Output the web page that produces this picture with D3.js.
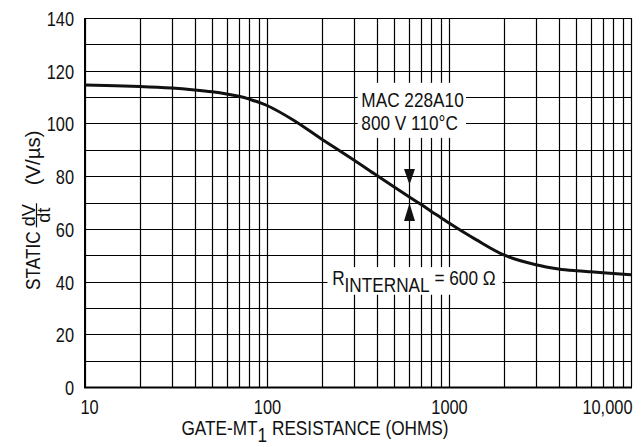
<!DOCTYPE html>
<html>
<head>
<meta charset="utf-8">
<script src="https://cdn.jsdelivr.net/npm/d3@7"></script>
<style>
  html, body { margin: 0; padding: 0; background: #fff; }
  svg { display: block; }
  text { font-family: 'Liberation Sans', Arial, sans-serif; fill: #111; }
</style>
</head>
<body>
<svg id="chart" width="643" height="447"></svg>
<script>
// ---- data ----
const resistance = [10, 20, 30, 40, 50, 60, 70, 80, 100, 140, 200, 300, 400, 500, 600, 700, 800, 900, 1000, 1400, 2000, 3000, 4000, 5000, 6000, 8000, 10000];
const staticDvDt = [114.6, 114.0, 113.4, 112.7, 112.0, 111.2, 110.3, 109.2, 106.8, 101.2, 94.0, 86.1, 80.3, 75.9, 72.3, 69.3, 66.6, 64.3, 62.2, 56.0, 50.1, 46.4, 44.8, 44.1, 43.7, 43.1, 42.6];
const xTickValues = [10, 100, 1000, 10000];
const xTickLabels = ["10", "100", "1000", "10,000"];
const yTickValues = [0, 20, 40, 60, 80, 100, 120, 140];
const yTickLabels = ["0", "20", "40", "60", "80", "100", "120", "140"];
const deviceLabel = ["MAC 228A10", "800 V 110°C"];
const markerResistance = 600;

const NARROW = 0.82; // condense Liberation Sans horizontally to mimic a narrow face

const svg = d3.select("#chart");
const M = { left: 85, right: 631, top: 18, bottom: 387 };

const x = d3.scaleLog().domain([10, 10000]).range([M.left, M.right]).interpolate(d3.interpolateRound);
const y = d3.scaleLinear().domain([0, 140]).range([M.bottom, M.top]).interpolate(d3.interpolateRound);
const xs = d3.scaleLog().domain([10, 10000]).range([M.left, M.right]);
const ys = d3.scaleLinear().domain([0, 140]).range([M.bottom, M.top]);

function condense(sel, k = NARROW) {
  sel.each(function () {
    const ax = +this.getAttribute("x") || 0;
    d3.select(this).attr("transform", `translate(${ax * (1 - k)},0) scale(${k},1)`);
  });
}

// ---- grid ----
const gx = svg.append("g").attr("transform", `translate(0,${M.bottom})`)
  .call(d3.axisBottom(x).tickValues(x.ticks()).tickSize(-(M.bottom - M.top)).tickFormat(""));
gx.select(".domain").remove();
gx.selectAll("line").attr("stroke", "#000").attr("stroke-width", 1.2);

const gy = svg.append("g").attr("transform", `translate(${M.left},0)`)
  .call(d3.axisLeft(y).tickValues(d3.range(0, 141, 10)).tickSize(-(M.right - M.left)).tickFormat(""));
gy.select(".domain").remove();
gy.selectAll("line").attr("stroke", "#000").attr("stroke-width", 1.2);

// ---- frame ----
svg.append("line").attr("x1", M.left).attr("x2", M.left).attr("y1", M.top).attr("y2", M.bottom + 1)
  .attr("stroke", "#000").attr("stroke-width", 2);
svg.append("line").attr("x1", M.left - 1).attr("x2", M.right + 1).attr("y1", M.bottom + 0.5).attr("y2", M.bottom + 0.5)
  .attr("stroke", "#000").attr("stroke-width", 2);

// ---- tick labels via axes ----
const axX = svg.append("g").attr("transform", `translate(0,${M.bottom})`)
  .call(d3.axisBottom(x).tickValues(xTickValues).tickSize(0).tickPadding(0)
    .tickFormat((d, i) => xTickLabels[i]));
axX.select(".domain").remove();
axX.selectAll("text")
  .attr("y", 27).attr("dy", 0)
  .style("font-size", "20px")
  .attr("font-family", null)
  .attr("text-anchor", (d, i) => i === xTickValues.length - 1 ? "end" : "middle")
  .attr("x", (d, i) => i === 0 ? 4 : (i === xTickValues.length - 1 ? 1 : 0));
condense(axX.selectAll("text"));

const axY = svg.append("g").attr("transform", `translate(${M.left},0)`)
  .call(d3.axisLeft(y).tickValues(yTickValues).tickSize(0).tickPadding(11)
    .tickFormat((d, i) => yTickLabels[i]));
axY.select(".domain").remove();
axY.selectAll("text").style("font-size", "20px").attr("font-family", null).attr("dy", "0.36em");
condense(axY.selectAll("text"));

// ---- annotation boxes ----
const box1 = { r0: 315, v0: 115.4, r1: 1240, v1: 94.5 };
svg.append("rect")
  .attr("x", xs(box1.r0)).attr("y", ys(box1.v0))
  .attr("width", xs(box1.r1) - xs(box1.r0)).attr("height", ys(box1.v1) - ys(box1.v0))
  .attr("fill", "#fff");
const l1 = svg.append("text").attr("x", xs(330)).attr("y", ys(106.3)).style("font-size", "21px").text(deviceLabel[0]);
const l2 = svg.append("text").attr("x", xs(330)).attr("y", ys(97.5)).style("font-size", "21px").text(deviceLabel[1]);
condense(l1); condense(l2);

const box2 = { r0: 215, v0: 45.5, r1: 1970, v1: 35 };
svg.append("rect")
  .attr("x", xs(box2.r0)).attr("y", ys(box2.v0))
  .attr("width", xs(box2.r1) - xs(box2.r0)).attr("height", ys(box2.v1) - ys(box2.v0))
  .attr("fill", "#fff");
const rt = svg.append("text").attr("x", xs(228)).attr("y", ys(38.7)).style("font-size", "21px");
rt.append("tspan").text("R");
rt.append("tspan").attr("dy", 7).text("INTERNAL");
rt.append("tspan").attr("dy", -7).text(" = 600 Ω");
condense(rt);

// ---- curve ----
const data = resistance.map((r, i) => ({ r, v: staticDvDt[i] }));
svg.append("path").datum(data)
  .attr("fill", "none").attr("stroke", "#111").attr("stroke-width", 3)
  .attr("stroke-linejoin", "round")
  .attr("d", d3.line().x(d => xs(d.r)).y(d => ys(d.v)).curve(d3.curveCatmullRom.alpha(0.5)));

// ---- arrows at R = 600 ----
const ax0 = x(markerResistance) + 0.5;
const tri = (tipV, baseV) => {
  const t = ys(tipV), b = ys(baseV);
  return `M${ax0 - 5.5},${b}L${ax0 + 5.5},${b}L${ax0},${t}Z`;
};
svg.append("path").attr("d", tri(76.7, 82.7)).attr("fill", "#111");
svg.append("path").attr("d", tri(69.7, 63.0)).attr("fill", "#111");

// ---- axis titles ----
const xt = svg.append("text").attr("x", 315).attr("y", 435).attr("text-anchor", "middle").style("font-size", "21px");
xt.append("tspan").text("GATE-MT");
xt.append("tspan").attr("dy", 7).text("1");
xt.append("tspan").attr("dy", -7).text(" RESISTANCE (OHMS)");
condense(xt);

// rotated y title: STATIC dV/dt (V/µs)
const yt = svg.append("g").attr("transform", "translate(40,0) rotate(-90)");
const startU = -290;
const t1 = yt.append("text").attr("x", startU).attr("y", 0).style("font-size", "21px").text("STATIC");
condense(t1);
const L1 = t1.node().getComputedTextLength() * NARROW;
const fs = "19px";
const FK = 0.95;
const num = yt.append("text").attr("y", -5).attr("text-anchor", "middle").style("font-size", fs).text("dV");
const den = yt.append("text").attr("y", 10).attr("text-anchor", "middle").style("font-size", fs).text("dt");
const fw = Math.max(num.node().getComputedTextLength(), den.node().getComputedTextLength()) * FK + 2;
const fracC = startU + L1 + 4 + fw / 2;
num.attr("x", fracC); den.attr("x", fracC);
condense(num, FK); condense(den, FK);
yt.append("line").attr("x1", fracC - fw / 2).attr("x2", fracC + fw / 2).attr("y1", -3.5).attr("y2", -3.5)
  .attr("stroke", "#111").attr("stroke-width", 1.2);
const t3 = yt.append("text").attr("x", fracC + fw / 2 + 18).attr("y", 0).style("font-size", "21px").text("(V/µs)");
condense(t3, 0.97);
</script>
</body>
</html>
